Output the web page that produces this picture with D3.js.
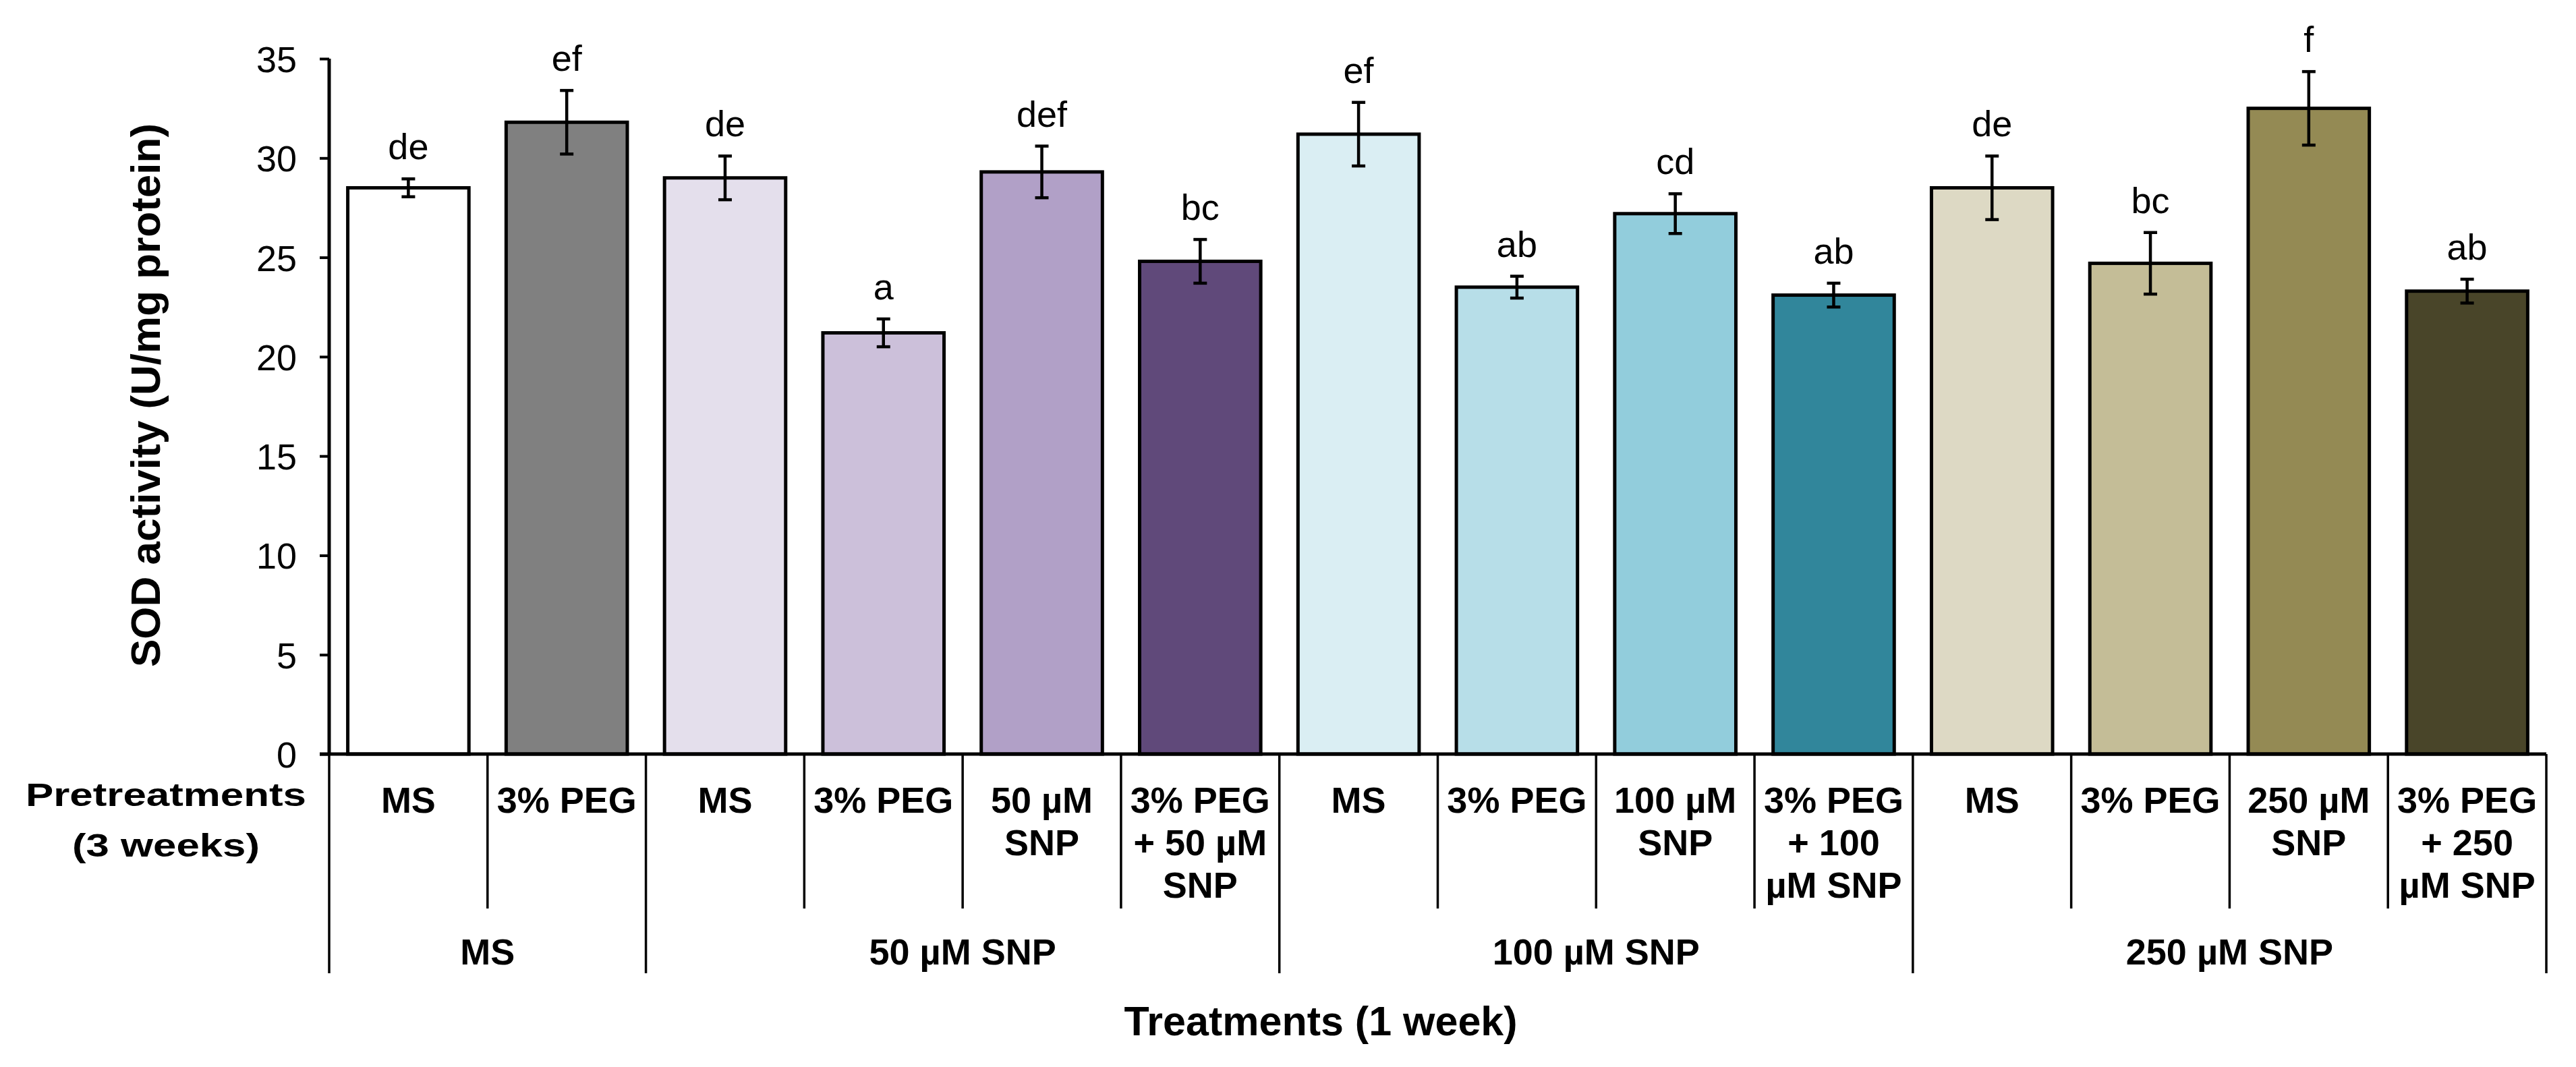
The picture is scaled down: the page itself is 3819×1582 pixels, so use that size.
<!DOCTYPE html>
<html>
<head>
<meta charset="utf-8">
<script src="https://cdn.jsdelivr.net/npm/d3@7"></script>
<style>
  body { margin: 0; background: #fff; }
  text { font-family: "Liberation Sans", Arial, sans-serif; fill: #000; }
</style>
</head>
<body>
<script>
// bars, left to right
var pretreatLines = [
  ["MS"], ["3% PEG"],
  ["MS"], ["3% PEG"], ["50 µM", "SNP"], ["3% PEG", "+ 50 µM", "SNP"],
  ["MS"], ["3% PEG"], ["100 µM", "SNP"], ["3% PEG", "+ 100", "µM SNP"],
  ["MS"], ["3% PEG"], ["250 µM", "SNP"], ["3% PEG", "+ 250", "µM SNP"]
];
var treatments = [ "MS", "50 µM SNP", "100 µM SNP", "250 µM SNP" ];
var groupSizes = [ 2, 4, 4, 4 ];
var sodMean = [ 28.5, 31.8, 29.0, 21.2, 29.3, 24.8, 31.2, 23.5, 27.2, 23.1, 28.5, 24.7, 32.5, 23.3 ];
var sodErr  = [ 0.45, 1.6, 1.1, 0.7, 1.3, 1.1, 1.6, 0.55, 1.0, 0.6, 1.6, 1.55, 1.85, 0.6 ];
var letters = [ "de", "ef", "de", "a", "def", "bc", "ef", "ab", "cd", "ab", "de", "bc", "f", "ab" ];
var colors  = [ "#ffffff", "#808080",
                "#e4dfec", "#ccc0da", "#b1a0c7", "#60497a",
                "#daeef3", "#b7dee8", "#92cddc", "#31869b",
                "#ddd9c4", "#c4bd97", "#948a54", "#494529" ];
var yTicks = [ 0, 5, 10, 15, 20, 25, 30, 35 ];

var W = 3819, H = 1582;
var svg = d3.select( "body" ).append( "svg" )
  .attr( "width", W ).attr( "height", H );

svg.append( "rect" ).attr( "width", W ).attr( "height", H ).attr( "fill", "#fff" );

var x = d3.scaleBand()
  .domain( d3.range( sodMean.length ) )
  .range( [ 488, 3775 ] )
  .paddingInner( 0.235 )
  .paddingOuter( 0.1175 );

var y = d3.scaleLinear().domain( [ 0, 35 ] ).range( [ 1118, 87 ] );

// left edge of the cell that holds bar i
function cellLeft( i ){
  return x( i ) + x.bandwidth() / 2 - x.step() / 2;
}

// bars
svg.selectAll( "rect.bar" )
  .data( sodMean )
  .enter().append( "rect" )
    .attr( "class", "bar" )
    .attr( "x", function(d,i){ return x( i ); } )
    .attr( "width", x.bandwidth() )
    .attr( "y", function(d){ return y( d ); } )
    .attr( "height", function(d){ return y( 0 ) - y( d ); } )
    .attr( "fill", function(d,i){ return colors[ i ]; } )
    .attr( "stroke", "#000" )
    .attr( "stroke-width", 5 );

// error bars
var err = svg.selectAll( "g.err" )
  .data( sodMean )
  .enter().append( "g" )
    .attr( "class", "err" )
    .attr( "stroke", "#000" )
    .attr( "stroke-width", 4.5 );

err.append( "line" )
  .attr( "x1", function(d,i){ return x( i ) + x.bandwidth() / 2; } )
  .attr( "x2", function(d,i){ return x( i ) + x.bandwidth() / 2; } )
  .attr( "y1", function(d,i){ return y( d + sodErr[ i ] ); } )
  .attr( "y2", function(d,i){ return y( d - sodErr[ i ] ); } );

[ 1, -1 ].forEach( function( s ){
  err.append( "line" )
    .attr( "x1", function(d,i){ return x( i ) + x.bandwidth() / 2 - 10; } )
    .attr( "x2", function(d,i){ return x( i ) + x.bandwidth() / 2 + 10; } )
    .attr( "y1", function(d,i){ return y( d + s * sodErr[ i ] ); } )
    .attr( "y2", function(d,i){ return y( d + s * sodErr[ i ] ); } );
});

// significance letters
svg.selectAll( "text.letter" )
  .data( letters )
  .enter().append( "text" )
    .attr( "class", "letter" )
    .attr( "x", function(d,i){ return x( i ) + x.bandwidth() / 2; } )
    .attr( "y", function(d,i){ return y( sodMean[ i ] + sodErr[ i ] ) - 29; } )
    .attr( "text-anchor", "middle" )
    .style( "font-size", "54px" )
    .text( function(d){ return d; } );

// y axis
var yAxis = svg.append( "g" )
  .attr( "transform", "translate(488,0)" )
  .call( d3.axisLeft( y ).tickValues( yTicks ).tickSize( 14 ).tickPadding( 34 ) );
yAxis.select( ".domain" ).attr( "stroke-width", 5 ).attr( "d", "M0," + y( 35 ) + "V" + y( 0 ) );
yAxis.selectAll( ".tick line" ).attr( "stroke-width", 4 );
yAxis.selectAll( ".tick text" )
  .style( "font-size", "54px" )
  .style( "font-family", "'Liberation Sans', Arial, sans-serif" )
  .attr( "dy", "0.36em" );

// x axis line
svg.append( "line" )
  .attr( "x1", 474 ).attr( "x2", x.range()[ 1 ] )
  .attr( "y1", y( 0 ) ).attr( "y2", y( 0 ) )
  .attr( "stroke", "#000" ).attr( "stroke-width", 5 );

// category table separators
var groupStart = [];
groupSizes.reduce( function( acc, n ){ groupStart.push( acc ); return acc + n; }, 0 );
var bounds = d3.range( sodMean.length + 1 );
svg.selectAll( "line.sep" )
  .data( bounds )
  .enter().append( "line" )
    .attr( "class", "sep" )
    .attr( "x1", function(d){ return d < sodMean.length ? cellLeft( d ) : cellLeft( d - 1 ) + x.step(); } )
    .attr( "x2", function(d){ return d < sodMean.length ? cellLeft( d ) : cellLeft( d - 1 ) + x.step(); } )
    .attr( "y1", y( 0 ) )
    .attr( "y2", function(d){
      var isGroup = d === sodMean.length || groupStart.indexOf( d ) >= 0;
      return isGroup ? 1443 : 1347;
    })
    .attr( "stroke", "#000" )
    .attr( "stroke-width", 3.5 );

// pretreatment labels
svg.selectAll( "text.pre" )
  .data( pretreatLines )
  .enter().append( "text" )
    .attr( "class", "pre" )
    .attr( "text-anchor", "middle" )
    .style( "font-size", "54px" )
    .style( "font-weight", "bold" )
    .each( function( lines, i ){
      var t = d3.select( this );
      lines.forEach( function( line, k ){
        t.append( "tspan" )
          .attr( "x", x( i ) + x.bandwidth() / 2 )
          .attr( "y", 1205 + k * 63 )
          .text( line );
      });
    });

// treatment group labels
svg.selectAll( "text.grp" )
  .data( treatments )
  .enter().append( "text" )
    .attr( "class", "grp" )
    .attr( "x", function(d,g){
      var a = cellLeft( groupStart[ g ] );
      var b = cellLeft( groupStart[ g ] + groupSizes[ g ] - 1 ) + x.step();
      return ( a + b ) / 2;
    })
    .attr( "y", 1430 )
    .attr( "text-anchor", "middle" )
    .style( "font-size", "54px" )
    .style( "font-weight", "bold" )
    .text( function(d){ return d; } );

// row title on the left
var rowTitle = svg.append( "text" )
  .attr( "text-anchor", "middle" )
  .style( "font-size", "49px" )
  .style( "font-weight", "bold" );
rowTitle.append( "tspan" ).attr( "x", 246 ).attr( "y", 1195 )
  .attr( "textLength", 416 ).attr( "lengthAdjust", "spacingAndGlyphs" )
  .text( "Pretreatments" );
rowTitle.append( "tspan" ).attr( "x", 246 ).attr( "y", 1270 )
  .attr( "textLength", 278 ).attr( "lengthAdjust", "spacingAndGlyphs" )
  .text( "(3 weeks)" );

// axis titles
svg.append( "text" )
  .attr( "x", 1958 ).attr( "y", 1535 )
  .attr( "text-anchor", "middle" )
  .style( "font-size", "61px" )
  .style( "font-weight", "bold" )
  .text( "Treatments (1 week)" );

svg.append( "text" )
  .attr( "transform", "translate(237,586) rotate(-90)" )
  .attr( "text-anchor", "middle" )
  .style( "font-size", "62px" )
  .style( "font-weight", "bold" )
  .text( "SOD activity (U/mg protein)" );
</script>
</body>
</html>
